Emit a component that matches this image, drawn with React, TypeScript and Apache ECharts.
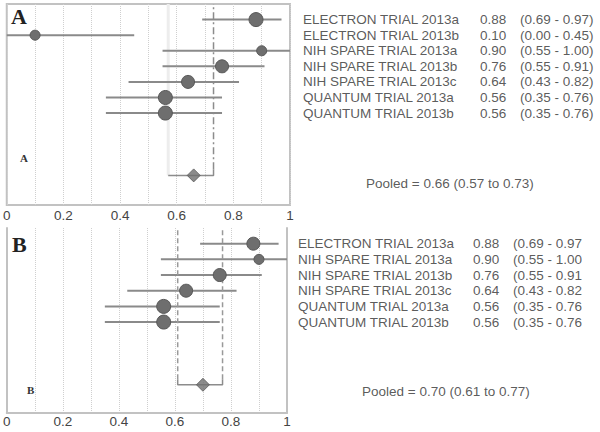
import React, { useEffect, useRef } from "react";
import * as echarts from "echarts";

// ---------- data ----------
const studiesA = [
  "ELECTRON TRIAL 2013a",
  "ELECTRON TRIAL 2013b",
  "NIH SPARE TRIAL 2013a",
  "NIH SPARE TRIAL 2013b",
  "NIH SPARE TRIAL 2013c",
  "QUANTUM TRIAL 2013a",
  "QUANTUM TRIAL 2013b",
];
const estA = [0.88, 0.1, 0.9, 0.76, 0.64, 0.56, 0.56];
const lowA = [0.69, 0.0, 0.55, 0.55, 0.43, 0.35, 0.35];
const highA = [0.97, 0.45, 1.0, 0.91, 0.82, 0.76, 0.76];
const pooledA = [0.66, 0.57, 0.73]; // estimate, low, high

const studiesB = [
  "ELECTRON TRIAL 2013a",
  "NIH SPARE TRIAL 2013a",
  "NIH SPARE TRIAL 2013b",
  "NIH SPARE TRIAL 2013c",
  "QUANTUM TRIAL 2013a",
  "QUANTUM TRIAL 2013b",
];
const estB = [0.88, 0.9, 0.76, 0.64, 0.56, 0.56];
const lowB = [0.69, 0.55, 0.55, 0.43, 0.35, 0.35];
const highB = [0.97, 1.0, 0.91, 0.82, 0.76, 0.76];
const pooledB = [0.7, 0.61, 0.77];

const xTickLabels = ["0", "0.2", "0.4", "0.6", "0.8", "1"];

// ---------- styles ----------
const markerSizesA = [14, 10, 10, 13, 13, 14, 14];
const markerSizesB = [13, 10, 13, 13, 14, 14];
const FONT = "'Liberation Sans', Arial, sans-serif";
const SERIF = "'Liberation Serif', 'Times New Roman', serif";
const TEXT = "#303030";
const BORDER = "#c2c2c2";
const GRIDC = "#cfcfcf";
const CI = "#8a8a8a";
const MARK = "#6e6e6e";

function panelSeries(
  g: number,
  names: string[],
  est: number[],
  low: number[],
  high: number[],
  pooled: number[],
  sizes: number[],
  labelDist: number,
  nameW: number,
  closeParen: boolean,
  pooledOffset: number[],
  isB: boolean
) {
  const axes = { xAxisIndex: g, yAxisIndex: g };
  const pooledRow = names.length + 3;
  const f = (v: number) => v.toFixed(2);
  const series: any[] = [];

  series.push({
    type: "custom",
    ...axes,
    silent: true,
    data: names.map((_, i) => [low[i], high[i], i]),
    encode: { x: [0, 1], y: 2 },
    renderItem: (params: any, api: any) => {
      const p1 = api.coord([api.value(0), api.value(2)]);
      const p2 = api.coord([api.value(1), api.value(2)]);
      return {
        type: "line",
        shape: { x1: p1[0], y1: p1[1], x2: p2[0], y2: p2[1] },
        style: { stroke: CI, lineWidth: 2 },
      };
    },
    z: 2,
  });

  series.push({
    type: "scatter",
    ...axes,
    silent: true,
    data: est.map((v, i) => [v, i]),
    symbol: "circle",
    symbolSize: (_v: any, p: any) => sizes[p.dataIndex],
    itemStyle: { color: MARK, borderColor: "#575757", borderWidth: 1, opacity: 1 },
    z: 3,
  });

  series.push({
    type: "scatter",
    ...axes,
    silent: true,
    clip: false,
    data: names.map((_, i) => [1, i]),
    symbolSize: 0,
    itemStyle: { color: "transparent" },
    label: {
      show: true,
      position: "right",
      distance: labelDist,
      formatter: (p: any) => {
        const i = p.dataIndex;
        const ci = `(${f(low[i])} - ${f(high[i])}${closeParen ? ")" : ""}`;
        return `{n|${names[i]}}{v|${f(est[i])}}{c|${ci}}`;
      },
      rich: {
        n: { width: nameW, fontSize: 13.5, fontFamily: FONT, color: TEXT },
        v: { width: 40, fontSize: 13.5, fontFamily: FONT, color: TEXT },
        c: { fontSize: 13.5, fontFamily: FONT, color: TEXT },
      },
    },
  });

  // pooled diamond
  series.push({
    type: "scatter",
    ...axes,
    silent: true,
    data: [[pooled[0], pooledRow]],
    symbol: "diamond",
    symbolSize: 13,
    itemStyle: { color: MARK, borderColor: "#5a5a5a", borderWidth: 1 },
    z: 4,
  });

  // pooled text
  series.push({
    type: "scatter",
    ...axes,
    silent: true,
    clip: false,
    data: [[1, pooledRow]],
    symbolSize: 0,
    itemStyle: { color: "transparent" },
    label: {
      show: true,
      position: "right",
      distance: 0,
      offset: pooledOffset,
      formatter: () => `Pooled = ${f(pooled[0])} (${f(pooled[1])} to ${f(pooled[2])})`,
      fontSize: 13.5,
      fontFamily: FONT,
      color: TEXT,
    },
  });

  const line = (data: number[][], style: any, z = 2) => ({
    type: "line",
    ...axes,
    silent: true,
    data,
    symbol: "none",
    lineStyle: style,
    z,
  });

  if (!isB) {
    // faint line at the lower pooled limit
    series.push(line([[pooled[1], -1], [pooled[1], pooledRow]], { color: "#ededed", width: 3 }, 1));
    // bracket
    series.push(
      line(
        [
          [pooled[1], pooledRow],
          [pooled[2], pooledRow],
          [pooled[2], pooledRow - 0.4],
        ],
        { color: "#8c8c8c", width: 1.5 }
      )
    );
    series.push(
      line([[pooled[2], pooledRow - 0.4], [pooled[2], -1]], {
        color: "#8c8c8c",
        width: 1.5,
        type: [7, 3, 2, 3],
      })
    );
  } else {
    series.push(
      line(
        [
          [pooled[1], pooledRow - 0.35],
          [pooled[1], pooledRow],
          [pooled[2], pooledRow],
          [pooled[2], pooledRow - 0.35],
        ],
        { color: "#8c8c8c", width: 1.5 }
      )
    );
    [pooled[1], pooled[2]].forEach((x) =>
      series.push(
        line([[x, pooledRow - 0.35], [x, -1]], {
          color: "#999",
          width: 1.5,
          type: [5, 3],
        })
      )
    );
  }
  return series;
}

export default function App() {
  const ref = useRef<HTMLDivElement>(null);

  useEffect(() => {
    document.body.style.margin = "0";
    const chart = echarts.init(ref.current!, undefined, { renderer: "svg" });

    const xAxisBase = (g: number, margin: number, line: boolean) => ({
      gridIndex: g,
      type: "value",
      min: 0,
      max: 1,
      interval: 0.2,
      position: "bottom",
      axisLine: { show: line, onZero: false, lineStyle: { color: BORDER, width: 2 } },
      axisTick: { show: false },
      minorTick: { show: false, splitNumber: 2 },
      splitLine: { show: true, lineStyle: { type: "dotted", color: GRIDC, width: 1 } },
      minorSplitLine: { show: true, lineStyle: { type: "dotted", color: GRIDC, width: 1 } },
      axisLabel: {
        margin,
        fontSize: 13.5,
        fontFamily: FONT,
        color: "#444",
        formatter: (v: number) => xTickLabels[Math.round(v / 0.2)] ?? "",
      },
    });

    const yHidden = (g: number, max: number, position: string, showLine: boolean) => ({
      gridIndex: g,
      type: "value",
      min: -1,
      max,
      inverse: true,
      position,
      axisLine: { show: showLine, onZero: false, lineStyle: { color: BORDER, width: 2 } },
      axisTick: { show: false },
      axisLabel: { show: false },
      splitLine: { show: false },
    });

    chart.setOption({
      animation: false,
      backgroundColor: "#fff",
      grid: [
        { left: 5, top: 4, width: 285, height: 201, show: true, borderColor: BORDER, borderWidth: 2, backgroundColor: "transparent" },
        { left: 5, top: 228, width: 282, height: 185 },
      ],
      xAxis: [xAxisBase(0, 3, false), xAxisBase(1, 1, true)],
      yAxis: [
        yHidden(0, 11.9, "left", false),
        yHidden(1, 10.8, "left", true),
        yHidden(1, 10.8, "right", true),
      ],
      series: [
        ...panelSeries(0, studiesA, estA, lowA, highA, pooledA, markerSizesA, 13, 177, true, [76, 8], false),
        ...panelSeries(1, studiesB, estB, lowB, highB, pooledB, markerSizesB, 11, 175, false, [75, 7], true),
      ],
      graphic: [
        { type: "text", left: 11, top: 5, style: { text: "A", font: `bold 22px ${SERIF}`, fill: "#222" } },
        { type: "text", left: 20, top: 152, style: { text: "A", font: `bold 11px ${SERIF}`, fill: "#333" } },
        { type: "text", left: 12, top: 233, style: { text: "B", font: `bold 22px ${SERIF}`, fill: "#222" } },
        { type: "text", left: 27, top: 384, style: { text: "B", font: `bold 11px ${SERIF}`, fill: "#333" } },
      ],
    });

    return () => chart.dispose();
  }, []);

  return <div ref={ref} style={{ width: 600, height: 432 }} />;
}
